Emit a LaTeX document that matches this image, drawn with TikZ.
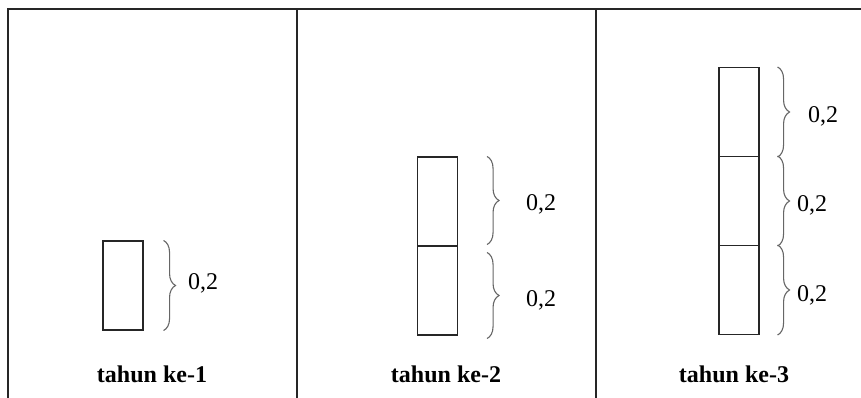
\documentclass[tikz,border=0pt]{standalone}
\usepackage{fontspec}
\setmainfont{Liberation Serif}
\usepackage{tikz}
\usetikzlibrary{decorations.pathreplacing}
\usetikzlibrary{positioning}
\tikzstyle{cell}=[rectangle, draw=black!85, line width=1.1pt, minimum width=40pt, minimum height=89pt, inner sep=0pt]
\tikzstyle{curly}=[decorate, decoration={brace, amplitude=12pt}, draw=black!60, line width=1.1pt]
\tikzstyle{value}=[font=\fontsize{24}{28}\selectfont, inner sep=0pt]
\tikzstyle{year}=[font=\fontsize{24}{28}\selectfont\bfseries, inner sep=0pt]
\tikzstyle{rule}=[draw=black!85, line width=1.4pt]
\tikzset{every picture/.style={
    x=1pt, y=-1pt
  }
}

\begin{document}
\begin{tikzpicture}
        \useasboundingbox (0,0) rectangle (861,398);
        % table lines
        \draw[rule, line width=2pt] (7,9) -- (861,9);
        \draw[rule] (8,9) -- (8,398);
        \draw[rule] (297,9) -- (297,398);
        \draw[rule] (596,9) -- (596,398);
        % year 1
        \node[cell] at (123,285.5) (b1) {};
        \draw[curly] ([xshift=20pt]b1.north east) -- ([xshift=20pt]b1.south east);
        \node[value] at (203,283) (v1) {0,2};
        \node[year] at (152,374) (y1) {tahun ke-1};
        % year 2
        \node[cell] at (437.5,201.5) (b2a) {};
        \node[cell] at (437.5,290.5) (b2b) {};
        \draw[curly] ([xshift=29pt]b2a.north east) -- ([xshift=29pt,yshift=2pt]b2a.south east);
        \draw[curly] ([xshift=29pt,yshift=-7pt]b2b.north east) -- ([xshift=29pt,yshift=-3pt]b2b.south east);
        \node[value] at (541,204) (v2a) {0,2};
        \node[value] at (541,300) (v2b) {0,2};
        \node[year] at (446,374) (y2) {tahun ke-2};
        % year 3
        \node[cell] at (739,112) (b3a) {};
        \node[cell] at (739,201) (b3b) {};
        \node[cell] at (739,290) (b3c) {};
        \draw[curly] ([xshift=18pt]b3a.north east) -- ([xshift=18pt]b3a.south east);
        \draw[curly] ([xshift=18pt]b3b.north east) -- ([xshift=18pt]b3b.south east);
        \draw[curly] ([xshift=18pt]b3c.north east) -- ([xshift=18pt]b3c.south east);
        \node[value] at (823,116) (v3a) {0,2};
        \node[value] at (812,205) (v3b) {0,2};
        \node[value] at (812,295) (v3c) {0,2};
        \node[year] at (734,374) (y3) {tahun ke-3};
      \end{tikzpicture}
\end{document}
